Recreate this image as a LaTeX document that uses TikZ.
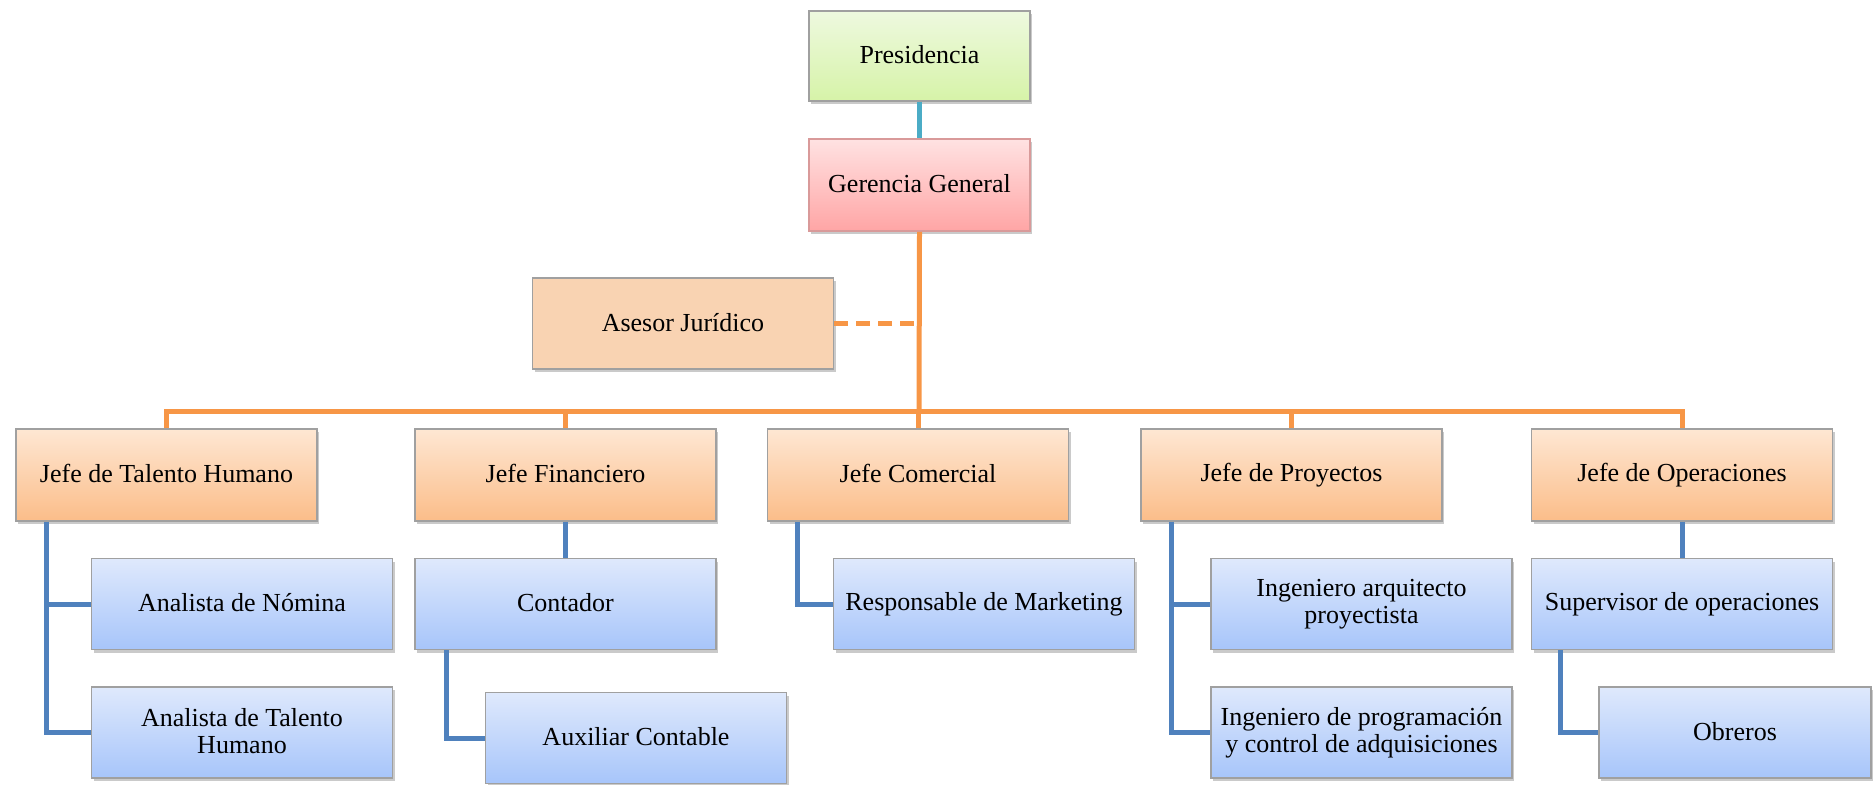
\documentclass[tikz,border=0pt]{standalone}
\usepackage{fontspec}
\setmainfont{Liberation Serif}
\usetikzlibrary{shadows}
\definecolor{grtop}{HTML}{EEF9DF}
\definecolor{grbot}{HTML}{D6F3A8}
\definecolor{pktop}{HTML}{FFE2E2}
\definecolor{pkbot}{HTML}{FFA5A5}
\definecolor{ortop}{HTML}{FEE7D3}
\definecolor{orbot}{HTML}{FBBD89}
\definecolor{bltop}{HTML}{DFE9FC}
\definecolor{blbot}{HTML}{A7C5FA}
\definecolor{asfill}{HTML}{F9D3B2}
\definecolor{orline}{HTML}{F79646}
\definecolor{blline}{HTML}{4F81BD}
\definecolor{tealline}{HTML}{4BACC6}
\definecolor{boxborder}{HTML}{A0A0A0}
\definecolor{pkborder}{HTML}{D99A9A}
\newcommand\mystrutA{\rule{0pt}{9pt}}
\newcommand\mystrutB{\rule[-1.5pt]{0pt}{1.5pt}}
\tikzset{
  x=0.5pt, y=-0.5pt,
  box/.style={rectangle, draw=boxborder, line width=0.8pt, minimum width=150.5pt, minimum height=45.5pt,
    align=center, inner sep=2pt, font=\fontsize{13}{13.6}\selectfont,
    execute at begin node=\mystrutA, execute at end node=\mystrutB,
    drop shadow={shadow xshift=1pt, shadow yshift=-1.5pt, opacity=0.35, fill=black!60}},
  greenbox/.style={box, top color=grtop, bottom color=grbot, minimum width=110.5pt, minimum height=45pt},
  pinkbox/.style={box, draw=pkborder, top color=pktop, bottom color=pkbot, minimum width=110.5pt, minimum height=46pt},
  asbox/.style={box, fill=asfill},
  orbox/.style={box, top color=ortop, bottom color=orbot, minimum height=46pt},
  blbox/.style={box, top color=bltop, bottom color=blbot},
  orconn/.style={draw=orline, line width=2.5pt},
  blconn/.style={draw=blline, line width=2.5pt},
  tlconn/.style={draw=tealline, line width=2.5pt},
}
\begin{document}
\begin{tikzpicture}
\useasboundingbox (0,0) rectangle (1873,784);
\coordinate (bus) at (919,411);
\node[greenbox] (pres) at (919.5,56) {Presidencia};
\node[pinkbox] (ger) at (919.5,185) {Gerencia General};
\node[asbox] (ases) at (683,323.5) {Asesor Jurídico};
\node[orbox] (jth) at (166.5,475) {Jefe de Talento Humano};
\node[orbox] (jf) at (565.5,475) {Jefe Financiero};
\node[orbox] (jc) at (918,475) {Jefe Comercial};
\node[orbox] (jp) at (1291.5,475) {Jefe de Proyectos};
\node[orbox] (jo) at (1682,475) {Jefe de Operaciones};
\node[blbox] (an) at (242,604) {Analista de Nómina};
\node[blbox] (ath) at (242,732.5) {Analista de Talento\\Humano};
\node[blbox] (cont) at (565.5,604) {Contador};
\node[blbox] (aux) at (636,738) {Auxiliar Contable};
\node[blbox] (resp) at (984,604) {Responsable de Marketing};
\node[blbox] (ia) at (1361.5,604) {Ingeniero arquitecto\\proyectista};
\node[blbox] (ip) at (1361.5,732.5) {Ingeniero de programación\\y control de adquisiciones};
\node[blbox] (sup) at (1682,604) {Supervisor de operaciones};
\node[blbox, minimum width=136pt] (obr) at (1735,732.5) {Obreros};
% top connector
\draw[tlconn] (pres.south) -- (ger.north);
% orange tree
\draw[orconn] (ger.south) -- (bus);
\draw[orconn] (jth.north) -- (jth.north |- bus) -- (jo.north |- bus) -- (jo.north);
\draw[orconn] (jf.north) -- (jf.north |- bus);
\draw[orconn] (jc.north) -- (jc.north |- bus);
\draw[orconn] (jp.north) -- (jp.north |- bus);
\draw[orconn, dash pattern=on 7pt off 4pt] (ases.east) -- (ases.east -| ger.south);
% blue connectors
\draw[blconn] ([xshift=15.5pt]jth.south west) |- (an.west);
\draw[blconn] ([xshift=15.5pt]jth.south west) |- (ath.west);
\draw[blconn] (jf.south) -- (cont.north);
\draw[blconn] ([xshift=16pt]cont.south west) |- (aux.west);
\draw[blconn] ([xshift=15.5pt]jc.south west) |- (resp.west);
\draw[blconn] ([xshift=15.5pt]jp.south west) |- (ia.west);
\draw[blconn] ([xshift=15.5pt]jp.south west) |- (ip.west);
\draw[blconn] (jo.south) -- (sup.north);
\draw[blconn] ([xshift=15pt]sup.south west) |- (obr.west);
\end{tikzpicture}
\end{document}
